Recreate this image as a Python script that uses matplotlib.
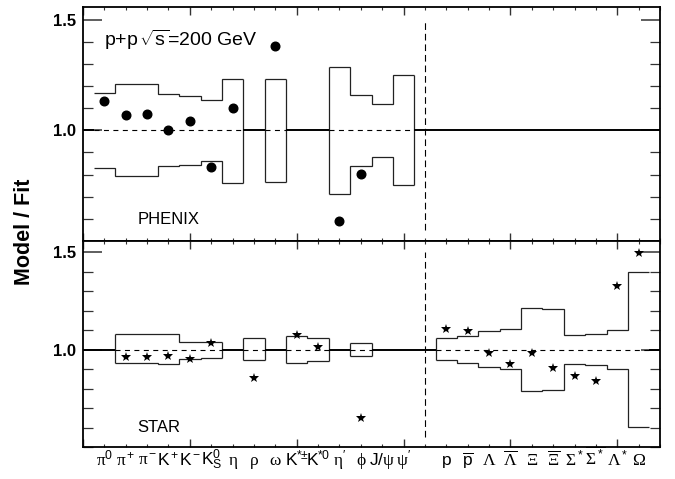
import matplotlib
matplotlib.use('Agg')
import matplotlib.pyplot as plt
from matplotlib.ticker import MultipleLocator, FixedLocator
import numpy as np

plt.rcParams['font.family'] = ['Liberation Sans', 'DejaVu Sans']
plt.rcParams['mathtext.fontset'] = 'custom'
plt.rcParams['mathtext.rm'] = 'Liberation Serif'
plt.rcParams['mathtext.it'] = 'Liberation Serif:italic'
plt.rcParams['mathtext.sf'] = 'Liberation Sans'
plt.rcParams['mathtext.bf'] = 'Liberation Sans:bold'
plt.rcParams['mathtext.default'] = 'sf'

# ---------------- categories ----------------
meson_keys = ['pi0', 'pip', 'pim', 'Kp', 'Km', 'K0S', 'eta', 'rho', 'omega',
              'Kstpm', 'Kst0', 'etap', 'phi', 'Jpsi', 'psip']
meson_labels = [r'$\mathrm{\pi}^0$', r'$\mathrm{\pi}^+$', r'$\mathrm{\pi}^-$',
                r'$K^+$', r'$K^-$', r'$K^0_S$', r'$\mathrm{\eta}$',
                r'$\mathrm{\rho}$', r'$\mathrm{\omega}$', r'$K^{*\!\!\pm}$',
                r'$K^{*\!0}$', r"$\mathrm{\eta}'$", r'$\mathrm{\phi}$',
                r'$J/\mathrm{\psi}$', r"$\mathrm{\psi}'$"]
baryon_keys = ['p', 'pbar', 'Lam', 'Lambar', 'Xi', 'Xibar', 'Sig', 'Sigbar',
               'Lamst', 'Omega']
baryon_labels = [r'$p$', r'$\overline{p}$', r'$\mathrm{\Lambda}$',
                 r'$\overline{\mathrm{\Lambda}}$', r'$\mathrm{\Xi}$',
                 r'$\overline{\mathrm{\Xi}}$', r'$\mathrm{\Sigma}^*$',
                 r'$\overline{\mathrm{\Sigma}^*}$', r'$\mathrm{\Lambda}^*$',
                 r'$\mathrm{\Omega}$']

# ---------------- PHENIX ----------------
phenix_keys = ['pi0', 'pip', 'pim', 'Kp', 'Km', 'K0S', 'eta', 'omega', 'etap', 'phi']
phenix_ratio = [1.132, 1.068, 1.075, 1.000, 1.042, 0.834, 1.101, 1.380, 0.590, 0.804]

phenix_band_keys = ['pi0', 'pip', 'pim', 'Kp', 'Km', 'K0S', 'eta', 'omega',
                    'etap', 'phi', 'Jpsi', 'psip']
phenix_band_hi = [1.170, 1.211, 1.211, 1.164, 1.155, 1.139, 1.234, 1.232,
                  1.286, 1.161, 1.119, 1.250]
phenix_band_lo = [0.830, 0.792, 0.792, 0.837, 0.845, 0.860, 0.764, 0.766,
                  0.714, 0.839, 0.879, 0.751]

# ---------------- STAR ----------------
star_keys = ['pip', 'pim', 'Kp', 'Km', 'K0S', 'rho', 'Kstpm', 'Kst0', 'phi',
             'p', 'pbar', 'Lam', 'Lambar', 'Xi', 'Xibar', 'Sig', 'Sigbar',
             'Lamst', 'Omega']
star_ratio = [0.961, 0.961, 0.969, 0.951, 1.036, 0.853, 1.075, 1.014, 0.648,
              1.105, 1.096, 0.981, 0.928, 0.981, 0.904, 0.863, 0.841, 1.327, 1.495]

star_band_keys = ['pip', 'pim', 'Kp', 'Km', 'K0S', 'rho', 'Kstpm', 'Kst0', 'phi',
                  'p', 'pbar', 'Lam', 'Lambar', 'Xi', 'Xibar', 'Sig', 'Sigbar',
                  'Lamst', 'Omega']
star_band_hi = [1.079, 1.079, 1.082, 1.038, 1.041, 1.057, 1.070, 1.058, 1.036,
                1.057, 1.070, 1.093, 1.103, 1.213, 1.207, 1.075, 1.082, 1.101, 1.396]
star_band_lo = [0.930, 0.930, 0.925, 0.952, 0.959, 0.944, 0.932, 0.942, 0.968,
                0.945, 0.933, 0.908, 0.899, 0.789, 0.793, 0.928, 0.920, 0.902, 0.603]

# ---------------- layout ----------------
n_mes = len(meson_keys)
pos = {k: i + 1 for i, k in enumerate(meson_keys)}
pos.update({k: n_mes + 2 + i for i, k in enumerate(baryon_keys)})
sep_x = n_mes + 1
xmax = n_mes + len(baryon_keys) + 2
all_keys = meson_keys + baryon_keys
all_labels = meson_labels + baryon_labels

W, H = 675, 479
fig = plt.figure(figsize=(W / 100, H / 100), dpi=100)
L, R = 83 / W, 660 / W
ax1 = fig.add_axes([L, 1 - 241 / H, R - L, (241 - 7) / H])
ax2 = fig.add_axes([L, 1 - 447 / H, R - L, (447 - 241) / H])

YLO, YHI = 0.5, 1.557
band_color = '#222222'


def groups_of(keys):
    xs = [pos[k] for k in keys]
    groups = []
    cur = [0]
    for i in range(1, len(xs)):
        if xs[i] == xs[i - 1] + 1:
            cur.append(i)
        else:
            groups.append(cur)
            cur = [i]
    groups.append(cur)
    return xs, groups


def draw_band(ax, keys, hi, lo, open_left=(), open_right=()):
    xs, groups = groups_of(keys)
    spans = []
    for gi, g in enumerate(groups):
        gx = [xs[i] for i in g]
        edges = np.arange(gx[0] - 0.5, gx[-1] + 1.0, 1.0)
        ax.stairs([hi[i] for i in g], edges, baseline=None, color=band_color, lw=0.9)
        ax.stairs([lo[i] for i in g], edges, baseline=None, color=band_color, lw=0.9)
        if gi not in open_left:
            ax.vlines(edges[0], lo[g[0]], hi[g[0]], color=band_color, lw=0.9)
        if gi not in open_right:
            ax.vlines(edges[-1], lo[g[-1]], hi[g[-1]], color=band_color, lw=0.9)
        spans.append((edges[0], edges[-1]))
    # reference line at 1: dashed inside bands, solid outside
    prev = 0
    for a, b in spans:
        ax.hlines(1.0, prev, a, color='k', lw=1.4)
        ax.hlines(1.0, a, b, color='k', lw=0.8, linestyles=(0, (4.5, 4.0)))
        prev = b
    ax.hlines(1.0, prev, xmax, color='k', lw=1.4)


draw_band(ax1, phenix_band_keys, phenix_band_hi, phenix_band_lo, open_left=(0,))
draw_band(ax2, star_band_keys, star_band_hi, star_band_lo, open_right=(4,))

ax1.plot([pos[k] for k in phenix_keys], phenix_ratio, 'o', color='k', ms=6.2)
ax2.plot([pos[k] for k in star_keys], star_ratio, '*', color='k', ms=7.5, mew=0)

for ax in (ax1, ax2):
    ax.vlines(sep_x, 0.55, 1.5, color='k', lw=0.8, linestyles=(0, (6, 3.5)))
    ax.set_xlim(0, xmax)
    ax.set_ylim(YLO, YHI)
    for s in ax.spines.values():
        s.set_linewidth(1.3)
    ax.xaxis.set_major_locator(MultipleLocator(5))
    ax.xaxis.set_minor_locator(MultipleLocator(1))
    ax.yaxis.set_major_locator(FixedLocator([1.0, 1.5]))
    ax.yaxis.set_minor_locator(MultipleLocator(0.1))
    ax.tick_params(axis='both', which='both', direction='in', top=True, right=True,
                   color='#333333')
    ax.tick_params(axis='x', which='major', length=5.5, width=1.0, labelbottom=False)
    ax.tick_params(axis='x', which='minor', length=2.5, width=0.8)
    ax.tick_params(axis='y', which='major', length=14, width=1.1, pad=5)
    ax.tick_params(axis='y', which='minor', length=7, width=0.9)
    ax.set_yticklabels(['1.0', '1.5'], fontweight='bold', fontsize=12)

# x category labels
for k, lab in zip(all_keys, all_labels):
    ax2.text(pos[k], -0.087, lab, transform=ax2.get_xaxis_transform(),
             ha='center', va='baseline', fontsize=12.5)

ax1.text(0.98, 1.38, r'p+p$\,\sqrt{s}$=200 GeV', fontsize=14, va='baseline', ha='left')
ax1.text(2.54, 0.575, 'PHENIX', fontsize=12, va='baseline', ha='left')
ax2.text(2.55, 0.579, 'STAR', fontsize=12, va='baseline', ha='left')

fig.text(25 / W, 1 - 232 / H, 'Model / Fit', rotation=90, fontsize=15.5,
         fontweight='bold', ha='center', va='center')

fig.savefig('out.png', dpi=100)
